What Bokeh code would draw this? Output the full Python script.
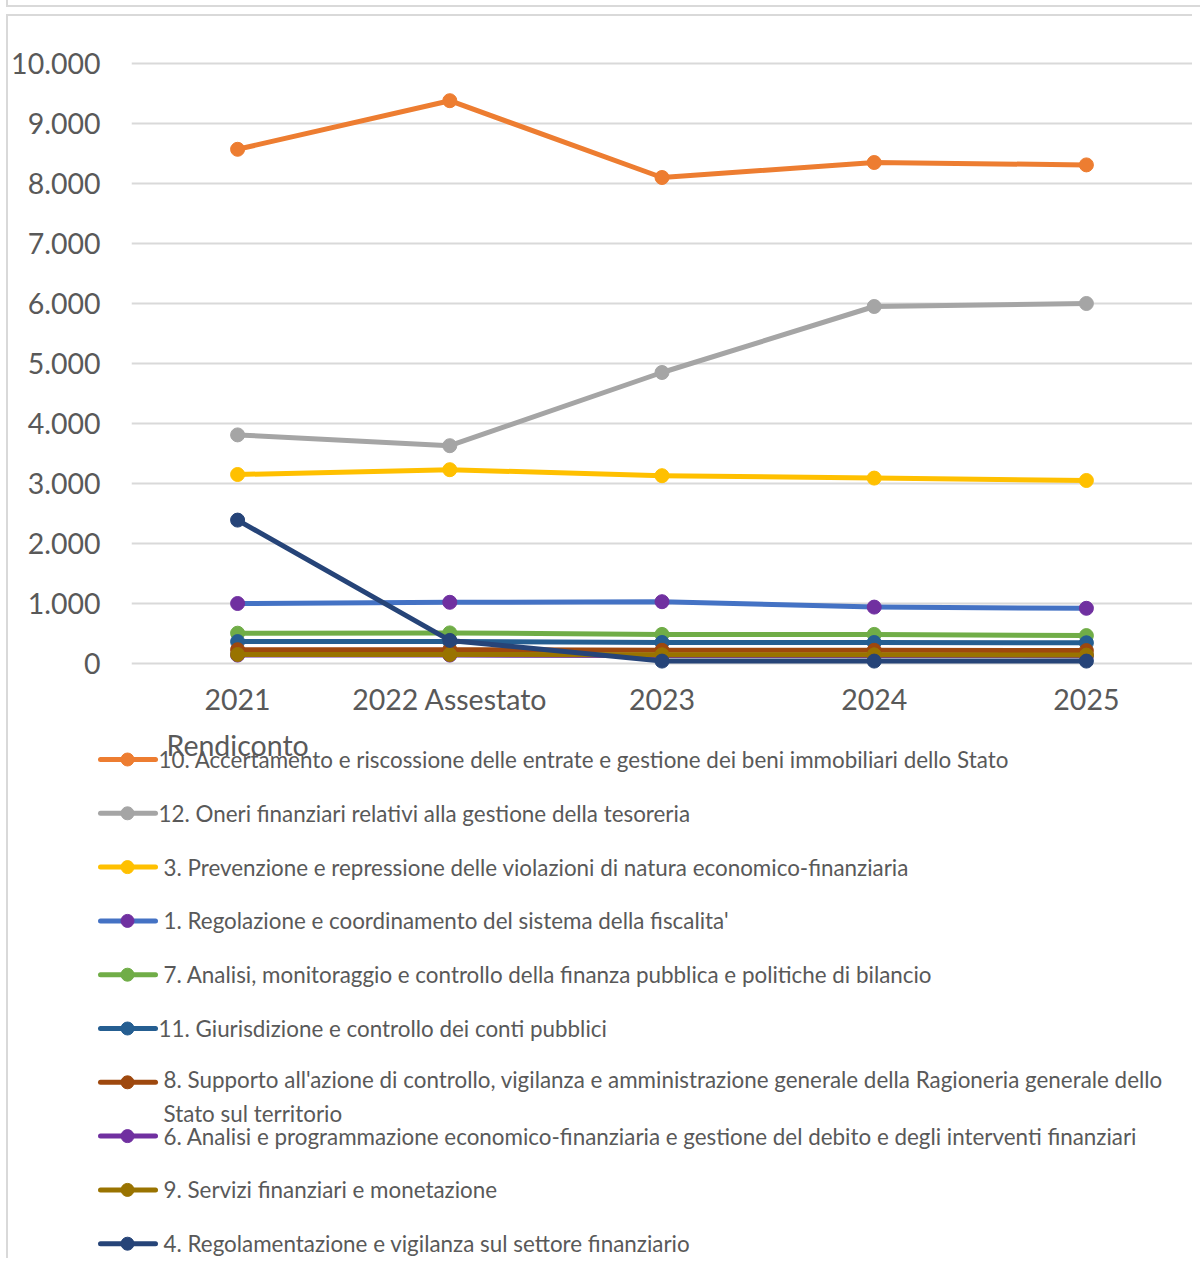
from bokeh.plotting import figure
from bokeh.models import FactorRange, Range1d, FixedTicker, Spacer
from bokeh.layouts import column, row
from bokeh.core.properties import value
from bokeh.embed import file_html
from bokeh.resources import INLINE

# ---------------- data ----------------
# category labels: (second line, first line) -> shown as a two-level categorical axis
year_line1 = ["2021", "2022 Assestato", "2023", "2024", "2025"]
year_line2 = ["Rendiconto", "", "", "", ""]
years = list(zip(year_line2, year_line1))

names = [
    "10. Accertamento e riscossione delle entrate e gestione dei beni immobiliari dello Stato",
    "12. Oneri finanziari relativi alla gestione della tesoreria",
    "3. Prevenzione e repressione delle violazioni di natura economico-finanziaria",
    "1. Regolazione e coordinamento del sistema della fiscalita'",
    "7. Analisi, monitoraggio e controllo della finanza pubblica e politiche di bilancio",
    "11. Giurisdizione e controllo dei conti pubblici",
    "8. Supporto all'azione di controllo, vigilanza e amministrazione generale della Ragioneria generale dello\nStato sul territorio",
    "6. Analisi e programmazione economico-finanziaria e gestione del debito e degli interventi finanziari",
    "9. Servizi finanziari e monetazione",
    "4. Regolamentazione e vigilanza sul settore finanziario",
]

s10 = [8570, 9380, 8100, 8350, 8310]
s12 = [3810, 3630, 4850, 5950, 6000]
s3 = [3150, 3230, 3130, 3090, 3050]
s1 = [1000, 1020, 1030, 940, 920]
s7 = [505, 510, 485, 485, 465]
s11 = [365, 365, 350, 350, 345]
s8 = [230, 230, 220, 220, 215]
s6 = [140, 140, 135, 135, 130]
s9 = [150, 150, 145, 145, 140]
s4 = [2390, 385, 40, 40, 40]

series = [s10, s12, s3, s1, s7, s11, s8, s6, s9, s4]

y_ticks = [0, 1000, 2000, 3000, 4000, 5000, 6000, 7000, 8000, 9000, 10000]

# ---------------- styles ----------------
line_colors = ["#ED7D31", "#A5A5A5", "#FFC000", "#4472C4", "#70AD47",
               "#255E91", "#9E480E", "#7030A0", "#997300", "#264478"]
marker_colors = ["#ED7D31", "#A5A5A5", "#FFC000", "#7030A0", "#70AD47",
                 "#255E91", "#9E480E", "#7030A0", "#997300", "#264478"]
FONT = "Lato"
TXT = "#595959"
GRID = "#D9D9D9"
BORDER = "2px solid #D9D9D9"
TICK_FS = "28.5px"

# ---------------- chart ----------------
p = figure(width=1184, height=756,
           x_range=FactorRange(*years, range_padding=0, group_padding=0,
                               factor_padding=0, subgroup_padding=0),
           y_range=Range1d(-150, 10050),
           output_backend="svg", toolbar_location=None,
           min_border_left=123, min_border_right=0,
           min_border_top=44, min_border_bottom=100)
p.frame_align = False
p.outline_line_color = None
p.background_fill_color = "white"
p.border_fill_color = "white"

p.xgrid.grid_line_color = None
p.ygrid.grid_line_color = GRID
p.ygrid.grid_line_width = 2
p.ygrid.ticker = FixedTicker(ticks=y_ticks)

p.yaxis.ticker = FixedTicker(ticks=y_ticks)
p.yaxis.major_label_overrides = {t: f"{t:,}".replace(",", ".") for t in y_ticks}
p.yaxis.axis_line_color = None
p.yaxis.major_tick_line_color = None
p.yaxis.minor_tick_line_color = None
p.yaxis.major_tick_out = 0
p.yaxis.major_tick_in = 0
p.yaxis.major_label_standoff = 31
p.yaxis.major_label_text_font = FONT
p.yaxis.major_label_text_font_size = TICK_FS
p.yaxis.major_label_text_color = TXT

xa = p.xaxis[0]
xa.axis_line_color = None
xa.major_tick_line_color = None
xa.minor_tick_line_color = None
xa.major_tick_out = 0
xa.major_tick_in = 0
xa.separator_line_color = None
xa.major_label_standoff = 9
xa.major_label_text_font = FONT
xa.major_label_text_font_size = TICK_FS
xa.major_label_text_color = TXT
xa.group_text_font = FONT
xa.group_text_font_size = TICK_FS
xa.group_text_color = TXT
xa.group_text_font_style = "normal"

for vals, lc, mc in zip(series, line_colors, marker_colors):
    p.line(years, vals, line_color=lc, line_width=5, line_join="round")
    p.scatter(years, vals, size=14, fill_color=mc, line_color=mc)

# ---------------- legend ----------------
LW, LH = 1184, 512
lg = figure(width=LW, height=LH, x_range=Range1d(0, LW), y_range=Range1d(LH, 0),
            output_backend="svg", toolbar_location=None,
            x_axis_location=None, y_axis_location=None, min_border=0)
lg.frame_align = False
lg.grid.visible = False
lg.outline_line_color = None
lg.background_fill_color = None
lg.border_fill_color = None
lg.styles = {"margin-top": "-26px"}

row0, step = 13, 53.8
for i, (name, lc, mc) in enumerate(zip(names, line_colors, marker_colors)):
    y = row0 + i * step
    lg.line([92, 147], [y, y], line_color=lc, line_width=5, line_cap="round")
    lg.scatter([119], [y], size=13, fill_color=mc, line_color=mc)
    tx = 150 if name[1].isdigit() else 155
    nlines = name.count("\n") + 1
    lg.text([tx], [y + (nlines - 1) * 14], text=[name], text_font=value(FONT),
            text_font_size="22.4px", text_color=TXT, text_baseline="middle",
            text_align="left", text_line_height=1.27)

top_box = Spacer(width=1194, height=7,
                 styles={"border-left": BORDER, "border-bottom": BORDER, "box-sizing": "border-box"})
main_box = column(p, lg, spacing=0, styles={"border-top": BORDER, "border-left": BORDER})
layout = row(Spacer(width=6), column(top_box, Spacer(height=7), main_box, spacing=0), spacing=0)

open("out.html", "w").write(file_html(layout, INLINE))
